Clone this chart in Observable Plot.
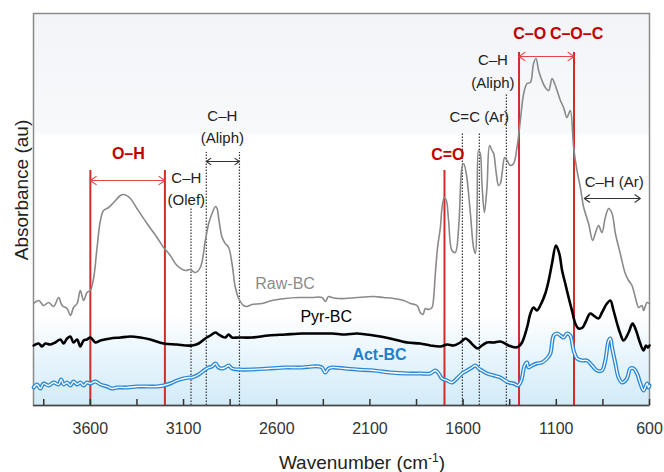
<!DOCTYPE html>
<html><head><meta charset="utf-8">
<script src="https://cdn.jsdelivr.net/npm/d3@7"></script>
<script src="https://cdn.jsdelivr.net/npm/@observablehq/plot@0.6"></script>
<style>body{margin:0;background:#fff}</style>
</head><body><div id="chart"></div>
<script>
// [wavenumber (cm-1), absorbance (a.u., offset-stacked as drawn)]
const rawBC = [[3904,102],[3877,105],[3851,100],[3824,103],[3797,99],[3770,108],[3752,100],[3725,97],[3707,90],[3690,98],[3671,102],[3654,115],[3636,105],[3618,113],[3600,115],[3582,128],[3564,158],[3546,185],[3529,195],[3502,198],[3475,203],[3439,210],[3421,211],[3385,207],[3350,197],[3296,182],[3242,168],[3207,158],[3171,150],[3135,140],[3090,135],[3064,136],[3037,133],[3010,138],[2983,165],[2965,182],[2947,192],[2929,199],[2920,197],[2912,188],[2893,168],[2876,162],[2858,158],[2840,142],[2822,118],[2804,107],[2778,100],[2759,99],[2733,101],[2679,102],[2625,105],[2554,107],[2483,108],[2411,108],[2357,108],[2339,104],[2322,109],[2303,108],[2268,107],[2232,107],[2169,108],[2080,109],[2026,108],[1973,107],[1919,105],[1883,102],[1847,100],[1830,93],[1815,91],[1803,97],[1785,96],[1767,98],[1758,108],[1749,132],[1737,158],[1722,178],[1713,198],[1701,208],[1690,205],[1678,185],[1660,155],[1642,153],[1624,178],[1606,238],[1597,242],[1583,232],[1561,192],[1544,158],[1534,152],[1525,198],[1517,255],[1508,252],[1499,222],[1486,193],[1472,218],[1458,260],[1445,255],[1436,252],[1422,232],[1410,220],[1400,222],[1391,232],[1377,248],[1364,245],[1347,240],[1329,242],[1311,258],[1293,285],[1275,312],[1257,322],[1239,323],[1222,342],[1209,347],[1195,335],[1177,325],[1159,318],[1141,315],[1123,327],[1109,322],[1096,315],[1078,305],[1061,298],[1043,288],[1025,295],[1007,258],[989,235],[971,218],[953,198],[927,182],[905,165],[891,172],[873,180],[855,173],[837,188],[819,197],[801,192],[783,172],[757,152],[730,132],[712,125],[694,120],[676,108],[658,98],[640,100],[632,95],[613,103],[600,102]];

const pyrBC = [[3904,60],[3877,62],[3859,59],[3842,62],[3815,61],[3788,63],[3761,66],[3743,62],[3725,67],[3707,69],[3690,63],[3671,66],[3654,59],[3636,65],[3618,66],[3600,68],[3573,63],[3546,65],[3493,67],[3439,68],[3385,69],[3332,68],[3278,66],[3207,62],[3135,61],[3090,60],[3054,60],[3019,62],[2983,67],[2956,70],[2929,73],[2912,71],[2893,69],[2876,68],[2858,71],[2840,68],[2804,68],[2733,68],[2644,70],[2554,71],[2464,72],[2375,72],[2303,72],[2232,71],[2169,72],[2080,70],[1991,67],[1901,63],[1830,62],[1776,60],[1722,59],[1686,61],[1651,60],[1615,63],[1588,67],[1570,65],[1544,60],[1522,57],[1499,60],[1472,63],[1436,63],[1400,64],[1356,60],[1320,58],[1302,59],[1284,63],[1257,78],[1239,92],[1222,98],[1204,95],[1186,100],[1159,112],[1141,125],[1123,142],[1102,160],[1084,152],[1069,135],[1052,122],[1034,108],[1016,95],[998,82],[980,77],[959,78],[944,83],[918,92],[900,90],[873,87],[855,93],[828,102],[810,105],[793,95],[774,82],[757,72],[739,65],[712,73],[691,82],[672,75],[655,65],[632,55],[619,60],[608,58],[600,60]];

const actBC = [[3904,18],[3886,21],[3868,17],[3851,22],[3824,20],[3797,23],[3770,21],[3757,26],[3743,21],[3725,23],[3707,20],[3690,24],[3671,21],[3654,23],[3636,20],[3618,23],[3600,22],[3573,24],[3546,21],[3510,19],[3484,17],[3457,18],[3403,18],[3350,19],[3296,19],[3242,19],[3207,20],[3171,22],[3135,25],[3100,27],[3067,28],[3054,28],[3019,31],[2983,36],[2965,38],[2947,39],[2929,42],[2912,38],[2893,37],[2876,38],[2858,40],[2840,37],[2804,36],[2733,36],[2644,37],[2554,38],[2464,38],[2411,39],[2375,39],[2357,38],[2339,33],[2322,37],[2303,38],[2232,37],[2169,36],[2080,35],[1991,33],[1901,32],[1830,32],[1776,32],[1749,35],[1731,32],[1713,27],[1686,25],[1660,23],[1633,27],[1606,32],[1579,35],[1552,38],[1534,40],[1517,37],[1499,35],[1472,32],[1436,30],[1400,28],[1391,27],[1356,23],[1329,22],[1305,20],[1288,25],[1270,40],[1257,43],[1249,38],[1230,40],[1204,42],[1177,43],[1150,47],[1132,52],[1114,70],[1096,72],[1078,70],[1061,68],[1043,72],[1025,70],[1007,55],[989,47],[962,45],[935,45],[908,40],[882,35],[855,35],[837,45],[819,65],[810,67],[801,58],[783,42],[766,28],[747,23],[721,27],[703,37],[685,37],[667,32],[649,22],[632,15],[613,22],[605,18],[600,20]];

const xLabelTicks = [3600, 3100, 2600, 2100, 1600, 1100, 600];
const xMinorTicks = [3850, 3600, 3350, 3100, 2850, 2600, 2350, 2100, 1850, 1600, 1350, 1100, 850, 600];

// band markers: [wavenumber, top of line]
const redLines = [[3600, 235], [3200, 235], [1700, 235], [1300, 353], [1005, 353]];
const dottedLines = [[3060, 197], [2978, 253], [2800, 253], [1604, 272], [1513, 272], [1368, 312]];
// double arrows: [from, to, level]
const redArrows = [[3600, 3200, 225], [1300, 1005, 349]];
const blackArrows = [[2978, 2800, 244], [950, 649, 207]];
// labels: [text, wavenumber, level]
const redLabelsMid = [["O–H", 3396, 252], ["C=O", 1682, 251]];
const redLabelsStart = [["C–O", 1331, 372]];
const redLabelsEnd = [["C–O–C", 848, 372]];
const bandLabels = [["C–H", 3085, 227], ["(Olef)", 3085, 205], ["C–H", 2892, 289], ["(Aliph)", 2892, 267], ["C=C (Ar)", 1513, 288], ["C–H", 1440, 345], ["(Aliph)", 1440, 322], ["C–H (Ar)", 789, 223]];
const rawLabel = [["Raw-BC", 2715, 122]];
const pyrLabel = [["Pyr-BC", 2473, 89]];
const actLabel = [["Act-BC", 2194, 51]];

const toObj = a => a.map(([wn, ab]) => ({wn, ab}));
const halfArrows = arr => arr.flatMap(([a, b, y]) => {
  const m = (a + b) / 2;
  return [{x1: m, x2: a, y}, {x1: m, x2: b, y}];
});
const txt = (data, opts) => Plot.text(data, {x: d => d[1], y: d => d[2], text: d => d[0], lineAnchor: "middle", ...opts});

const FONT = "'Liberation Sans', Arial, sans-serif";

const svg = Plot.plot({
  width: 664,
  height: 472,
  marginLeft: 33,
  marginRight: 15,
  marginTop: 13,
  marginBottom: 67,
  style: {fontFamily: FONT, background: "white", overflow: "visible"},
  x: {domain: [3905, 600]},
  y: {domain: [0, 392], axis: null},
  marks: [
    Plot.frame({fill: "url(#bgGrad)", stroke: "#8a8a8a", strokeWidth: 1.5}),
    Plot.ruleX(redLines, {x: d => d[0], y1: 0, y2: d => d[1], stroke: "#d42a2a", strokeWidth: 2}),
    Plot.ruleX(dottedLines, {x: d => d[0], y1: 0, y2: d => d[1], stroke: "#333", strokeWidth: 1.2, strokeDasharray: "1.5,1.5"}),
    Plot.arrow(halfArrows(redArrows), {x1: "x1", x2: "x2", y1: "y", y2: "y", stroke: "#e0474a", strokeWidth: 1.2, headLength: 9, headAngle: 70}),
    Plot.arrow(halfArrows(blackArrows), {x1: "x1", x2: "x2", y1: "y", y2: "y", stroke: "#333", strokeWidth: 1.1, headLength: 9, headAngle: 70}),
    Plot.line(toObj(rawBC), {x: "wn", y: "ab", stroke: "#8a8a8a", strokeWidth: 1.6, curve: "catmull-rom"}),
    Plot.line(toObj(pyrBC), {x: "wn", y: "ab", stroke: "#000", strokeWidth: 2.6, curve: "catmull-rom"}),
    Plot.line(toObj(actBC), {x: "wn", y: "ab", stroke: "#2a88d4", strokeWidth: 4, curve: "catmull-rom"}),
    Plot.line(toObj(actBC), {x: "wn", y: "ab", stroke: "#ffffff", strokeWidth: 1.3, curve: "catmull-rom"}),
    txt(redLabelsMid, {fill: "#c00000", fontSize: 16, fontWeight: "bold", textAnchor: "middle"}),
    txt(redLabelsStart, {fill: "#c00000", fontSize: 16, fontWeight: "bold", textAnchor: "start"}),
    txt(redLabelsEnd, {fill: "#c00000", fontSize: 16, fontWeight: "bold", textAnchor: "end"}),
    txt(bandLabels, {fill: "#222", fontSize: 15}),
    txt(rawLabel, {fill: "#8c8c8c", fontSize: 16, textAnchor: "start"}),
    txt(pyrLabel, {fill: "#000", fontSize: 16, textAnchor: "start"}),
    txt(actLabel, {fill: "#1f7fce", fontSize: 16, fontWeight: "bold", textAnchor: "start"}),
    Plot.tickX(xMinorTicks, {x: d => d, insetTop: 386, stroke: "#333", strokeWidth: 1.5}),
    Plot.ruleY([0], {stroke: "#444", strokeWidth: 1.6}),
    Plot.axisX({ticks: xLabelTicks, tickFormat: d => String(d), tickSize: 0, tickPadding: 17, fontSize: 16, fill: "#333", label: null})
  ]
});

// background gradient used by the frame fill
const defs = d3.select(svg).insert("defs", ":first-child");
const g = defs.append("linearGradient").attr("id", "bgGrad").attr("x1", 0).attr("y1", 0).attr("x2", 0).attr("y2", 1);
[[0, "#f2f4f8"], [0.3, "#f7f9fb"], [0.315, "#ffffff"], [0.77, "#ffffff"], [0.85, "#edf7fd"], [1, "#d2ebf8"]]
  .forEach(([o, c]) => g.append("stop").attr("offset", o).attr("stop-color", c));

// axis titles
const s = d3.select(svg);
const xt = s.append("text").attr("x", 362).attr("y", 469).attr("text-anchor", "middle")
  .attr("font-family", FONT).attr("font-size", 19).attr("fill", "#222");
xt.append("tspan").text("Wavenumber (cm");
xt.append("tspan").attr("dy", -7).attr("font-size", 12).text("-1");
xt.append("tspan").attr("dy", 7).text(")");
s.append("text").attr("transform", "translate(28,190) rotate(-90)").attr("text-anchor", "middle")
  .attr("font-family", FONT).attr("font-size", 19).attr("fill", "#222").text("Absorbance (au)");

document.getElementById("chart").appendChild(svg);
</script>
</body></html>
